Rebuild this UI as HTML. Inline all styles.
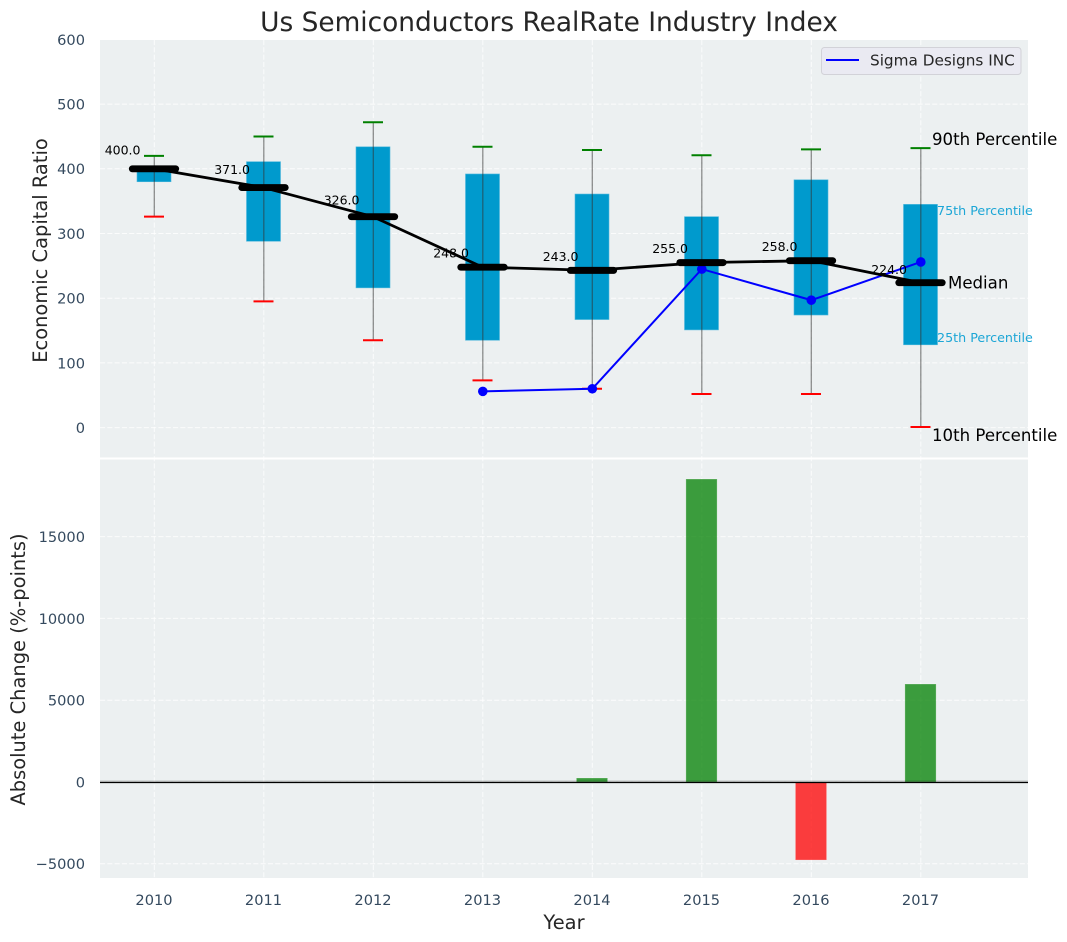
<!DOCTYPE html>
<html lang="en">
<head>
<meta charset="utf-8">
<title>Us Semiconductors RealRate Industry Index</title>
<style>
html,body{margin:0;padding:0;background:#fff;}
svg{display:block;font-family:"DejaVu Sans","Liberation Sans",sans-serif;}
</style>
</head>
<body>
<svg id="chart" xmlns="http://www.w3.org/2000/svg" width="1067" height="942" viewBox="0 0 1067 942">
  <text x="549" y="31" font-size="26.4" fill="#262626" text-anchor="middle">Us Semiconductors RealRate Industry Index</text>
  <rect x="100" y="40" width="928" height="417.5" fill="#ecf0f1"/>
  <rect x="100" y="459.5" width="928" height="418.5" fill="#ecf0f1"/>
  <g id="grid"></g>
  <g id="bars"></g>
  <g id="boxes"></g>
  <g id="overlay"></g>
  <g id="ticks"></g>
  <text transform="translate(47,250.5) rotate(-90)" font-size="19.44" fill="#262626" text-anchor="middle">Economic Capital Ratio</text>
  <text transform="translate(25,669.5) rotate(-90)" font-size="19.44" fill="#262626" text-anchor="middle">Absolute Change (%-points)</text>
  <text x="564" y="929" font-size="19.44" fill="#262626" text-anchor="middle">Year</text>
  <text x="932" y="145" font-size="16.6" fill="#000">90th Percentile</text>
  <text x="937" y="215" font-size="12.7" fill="#1ca6d6">75th Percentile</text>
  <text x="948" y="288.5" font-size="16.6" fill="#000">Median</text>
  <text x="937" y="342" font-size="12.7" fill="#1ca6d6">25th Percentile</text>
  <text x="932" y="441" font-size="16.6" fill="#000">10th Percentile</text>
  <g>
    <rect x="821.5" y="47.5" width="199.5" height="27" rx="3" fill="#eaeaf2" stroke="#d2d2d8" stroke-width="1"/>
    <line x1="826" x2="859" y1="60" y2="60" stroke="#0000ff" stroke-width="2"/>
    <text x="870" y="65.7" font-size="15.28" fill="#262626">Sigma Designs INC</text>
  </g>
</svg>
<script>
const years = [2010, 2011, 2012, 2013, 2014, 2015, 2016, 2017];
const p90 = [420, 450, 472, 434, 429, 421, 430, 432];
const q3 = [402, 411, 434, 392, 361, 326, 383, 345];
const medians = [400, 371, 326, 248, 243, 255, 258, 224];
const q1 = [380, 288, 216, 135, 167, 151, 174, 128];
const p10 = [326, 195, 135, 73, 60, 52, 52, 1];
const sigmaYears = [2013, 2014, 2015, 2016, 2017];
const sigmaValues = [56, 60, 245, 197, 256];
const changeValues = [0, 0, 0, 0, 245, 18520, -4770, 5990];
const topTicks = [0, 100, 200, 300, 400, 500, 600];
const bottomTicks = [-5000, 0, 5000, 10000, 15000];
const bottomTickLabels = ['\u22125000', '0', '5000', '10000', '15000'];

const NS = 'http://www.w3.org/2000/svg';
const xScale = function (v) { return 154 + (v - 2010) * 109.5; };
const yTop = function (v) { return 427.6 - v * 0.647; };
const yBottom = function (v) { return 782 - v * 0.01636; };

function make(parent, tag, attrs, text) {
  const el = document.createElementNS(NS, tag);
  for (const k in attrs) el.setAttribute(k, attrs[k]);
  if (text !== undefined) el.textContent = text;
  parent.appendChild(el);
  return el;
}

const gridG = document.getElementById('grid');
const barsG = document.getElementById('bars');
const boxesG = document.getElementById('boxes');
const overlayG = document.getElementById('overlay');
const ticksG = document.getElementById('ticks');
const gridStyle = { stroke: '#ffffff', 'stroke-width': 1, 'stroke-dasharray': '5.1 2.2', opacity: 0.8 };

years.forEach(function (yr) {
  const gx = make(gridG, 'line', Object.assign({ x1: xScale(yr) + 0.3, x2: xScale(yr) + 0.3, y1: 40, y2: 878 }, gridStyle));
  
  
  const tx = make(ticksG, 'text', { x: xScale(yr), y: 905, 'font-size': 14.6, fill: '#34495e', 'text-anchor': 'middle' }, String(yr));
  
  
});

topTicks.forEach(function (t) {
  const g = make(gridG, 'line', Object.assign({ x1: 100, x2: 1028, y1: yTop(t), y2: yTop(t) }, gridStyle));
  
  
  const l = make(ticksG, 'text', { x: 85, y: yTop(t) + 5.4, 'font-size': 14.6, fill: '#34495e', 'text-anchor': 'end' }, String(t));
  
  
});

bottomTicks.forEach(function (t, i) {
  const g = make(gridG, 'line', Object.assign({ x1: 100, x2: 1028, y1: yBottom(t), y2: yBottom(t) }, gridStyle));
  
  
  const l = make(ticksG, 'text', { x: 85, y: yBottom(t) + 5.4, 'font-size': 14.6, fill: '#34495e', 'text-anchor': 'end' }, bottomTickLabels[i]);
  
  
});

const sep = make(gridG, 'rect', { x: 100, y: 457.5, width: 928, height: 2, fill: '#ffffff' });



changeValues.forEach(function (v, i) {
  if (v === 0) return;
  const x = xScale(years[i]);
  const top = Math.min(yBottom(v), yBottom(0));
  const h = Math.abs(yBottom(v) - yBottom(0));
  const bar = make(barsG, 'rect', { x: x - 15.6, y: top, width: 31.2, height: h, fill: v > 0 ? '#008000' : '#ff0000', 'fill-opacity': 0.75, stroke: '#ffffff', 'stroke-opacity': 0.25, 'stroke-width': 1 });
  
  
});

const zeroShadow = make(barsG, 'line', { x1: 100, x2: 1028, y1: yBottom(0) - 0.4, y2: yBottom(0) - 0.4, stroke: '#000', 'stroke-opacity': 0.2, 'stroke-width': 2.2 });


const zeroLine = make(barsG, 'line', { x1: 100, x2: 1028, y1: yBottom(0) + 0.5, y2: yBottom(0) + 0.5, stroke: '#000', 'stroke-width': 1.2 });



years.forEach(function (yr, i) {
  const x = xScale(yr);
  const box = make(boxesG, 'rect', { x: x - 17, y: yTop(q3[i]), width: 34, height: yTop(q1[i]) - yTop(q3[i]), fill: '#009acd', stroke: '#4fb8dc', 'stroke-width': 0.6 });
  
  
  const whisker = make(boxesG, 'line', { x1: x + 0.3, x2: x + 0.3, y1: yTop(p90[i]), y2: yTop(p10[i]), stroke: '#333', 'stroke-opacity': 0.55, 'stroke-width': 1.3 });
  
  
  const capHigh = make(boxesG, 'line', { x1: x - 10, x2: x + 10, y1: yTop(p90[i]), y2: yTop(p90[i]), stroke: '#008000', 'stroke-width': 2 });
  
  
  const capLow = make(boxesG, 'line', { x1: x - 10, x2: x + 10, y1: yTop(p10[i]), y2: yTop(p10[i]), stroke: '#ff0000', 'stroke-width': 2 });
  
  
});

const sigmaPts = sigmaYears.map(function (yr, i) { return (xScale(yr) + 0.3) + ',' + yTop(sigmaValues[i]); }).join(' ');
const sigmaLine = make(overlayG, 'polyline', { points: sigmaPts, fill: 'none', stroke: '#0000ff', 'stroke-width': 2 });


sigmaYears.forEach(function (yr, i) {
  const dot = make(overlayG, 'circle', { cx: xScale(yr) + 0.3, cy: yTop(sigmaValues[i]), r: 4.8, fill: '#0000ff' });
  
  
});

const medianPts = years.map(function (yr, i) { return xScale(yr) + ',' + yTop(medians[i]); }).join(' ');
const medianLine = make(overlayG, 'polyline', { points: medianPts, fill: 'none', stroke: '#000', 'stroke-width': 2.8 });



years.forEach(function (yr, i) {
  const x = xScale(yr);
  const m = make(overlayG, 'line', { x1: x - 21.7, x2: x + 21.7, y1: yTop(medians[i]), y2: yTop(medians[i]), stroke: '#000', 'stroke-width': 6.9, 'stroke-linecap': 'round' });
  
  
  const t = make(overlayG, 'text', { x: x - 49.3, y: yTop(medians[i] * 1.05) - 1.5, 'font-size': 12.5, fill: '#000' }, medians[i].toFixed(1));
  
  
});
</script>
</body>
</html>
